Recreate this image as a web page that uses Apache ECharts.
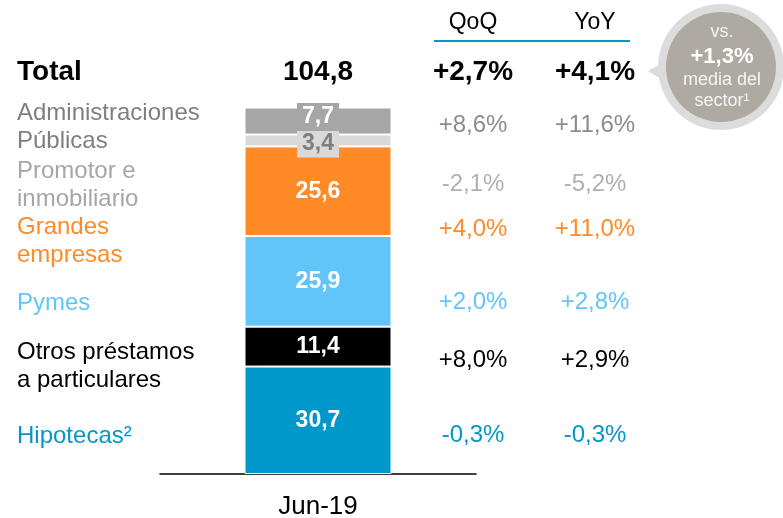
<!DOCTYPE html>
<html>
<head>
<meta charset="utf-8">
<script src="https://cdn.jsdelivr.net/npm/echarts@6/dist/echarts.min.js"></script>
<style>
  html, body { margin: 0; padding: 0; background: #fff; }
  #chart { width: 783px; height: 518px; }
</style>
</head>
<body>
<div id="chart"></div>
<script>
// data, bottom segment first
const categories = ['Jun-19']
const segmentNames = ['Hipotecas²', 'Otros préstamos\na particulares', 'Pymes', 'Grandes\nempresas', 'Promotor e\ninmobiliario', 'Administraciones\nPúblicas']
const segmentValues = [30.7, 11.4, 25.9, 25.6, 3.4, 7.7]
const qoqLabels = ['-0,3%', '+8,0%', '+2,0%', '+4,0%', '-2,1%', '+8,6%']
const yoyLabels = ['-0,3%', '+2,9%', '+2,8%', '+11,0%', '-5,2%', '+11,6%']
const totalLabel = 'Total'
const totalValue = '104,8'
const totalQoq = '+2,7%'
const totalYoy = '+4,1%'
const columnHeaders = ['QoQ', 'YoY']
const sectorLines = ['vs.', '+1,3%', 'media del', 'sector¹']

// styles / layout
const barColors = ['#0098ca', '#000000', '#62c5f9', '#ff8a26', '#d9d9d9', '#a6a6a6']
const nameColors = ['#0098ca', '#000000', '#62c5f9', '#ff8a26', '#a6a6a6', '#7f7f7f']
const pctColors = ['#0098ca', '#000000', '#62c5f9', '#ff8a26', '#b0b0b0', '#8c8c8c']
const nameRowY = [436, 366, 303, 241.5, 185, 127]
const pctRowY = [435, 360, 302, 229, 184, 125]
const FONT = '"Liberation Sans", Arial, sans-serif'
const colQoq = 473
const colYoy = 595

const chart = echarts.init(document.getElementById('chart'), null, { renderer: 'canvas' })

function fmt(v) {
  return String(v).replace('.', ',')
}

const series = segmentValues.map((v, i) => {
  const s = {
    name: segmentNames[i],
    type: 'bar',
    stack: 'total',
    barWidth: 147,
    data: [v],
    itemStyle: {
      color: barColors[i],
      borderColor: '#ffffff',
      borderWidth: 1
    },
    label: {
      show: true,
      position: 'inside',
      formatter: (p) => fmt(p.value),
      color: '#ffffff',
      fontFamily: FONT,
      fontWeight: 'bold',
      fontSize: 23
    },
    animation: false
  }
  if (i === 4) {
    s.label.color = '#7f7f7f'
    s.label.backgroundColor = '#d9d9d9'
    s.label.padding = [3, 5, 2, 5]
    s.label.offset = [0, 3]
  }
  if (i === 5) {
    s.label.backgroundColor = '#a6a6a6'
    s.label.padding = [3, 5, 2, 5]
    s.label.offset = [0, -4]
  }
  return s
})

const graphic = []

function addText(x, y, text, color, size, weight, align) {
  graphic.push({
    type: 'text',
    x: x,
    y: y,
    style: {
      text: text,
      fill: color,
      font: (weight || 'normal') + ' ' + size + 'px ' + FONT,
      align: align || 'left',
      verticalAlign: 'middle',
      lineHeight: 28
    },
    z: 10
  })
}

// headers
addText(colQoq, 23, columnHeaders[0], '#000', 23, 'normal', 'center')
addText(colYoy, 23, columnHeaders[1], '#000', 23, 'normal', 'center')
graphic.push({
  type: 'line',
  shape: { x1: 434, y1: 41, x2: 630, y2: 41 },
  style: { stroke: '#0099cc', lineWidth: 2 }
})

// total row
addText(17, 72, totalLabel, '#000', 28, 'bold', 'left')
addText(318, 72, totalValue, '#000', 28, 'bold', 'center')
addText(colQoq, 72, totalQoq, '#000', 28, 'bold', 'center')
addText(colYoy, 72, totalYoy, '#000', 28, 'bold', 'center')

// rows
segmentNames.forEach((n, i) => {
  addText(17, nameRowY[i], n, nameColors[i], 24, 'normal', 'left')
  addText(colQoq, pctRowY[i], qoqLabels[i], pctColors[i], 24, 'normal', 'center')
  addText(colYoy, pctRowY[i], yoyLabels[i], pctColors[i], 24, 'normal', 'center')
})

// sector badge
graphic.push({
  type: 'polygon',
  shape: { points: [[648, 71], [666, 61], [666, 82]] },
  style: { fill: '#dcdcdc' }
})
graphic.push({
  type: 'circle',
  shape: { cx: 721, cy: 67, r: 63 },
  style: { fill: '#dcdcdc' }
})
graphic.push({
  type: 'circle',
  shape: { cx: 721, cy: 67, r: 55 },
  style: { fill: '#aeaaa2' }
})
addText(722, 32, sectorLines[0], '#f5f5f5', 18, 'normal', 'center')
addText(722, 57, sectorLines[1], '#ffffff', 22, 'bold', 'center')
addText(722, 80, sectorLines[2], '#f5f5f5', 18, 'normal', 'center')
addText(722, 101, sectorLines[3], '#f5f5f5', 18, 'normal', 'center')

chart.setOption({
  animation: false,
  grid: {
    left: 160,
    right: 307,
    top: 89,
    bottom: 44,
    containLabel: false,
    outerBoundsMode: 'none'
  },
  xAxis: {
    type: 'category',
    data: categories,
    axisLine: { lineStyle: { color: '#000', width: 1.5 } },
    axisTick: { show: false },
    axisLabel: {
      color: '#000',
      fontFamily: FONT,
      fontSize: 26,
      margin: 20
    }
  },
  yAxis: {
    type: 'value',
    min: 0,
    max: 110,
    show: false,
    splitLine: { show: false }
  },
  series: series,
  graphic: graphic
})
</script>
</body>
</html>
